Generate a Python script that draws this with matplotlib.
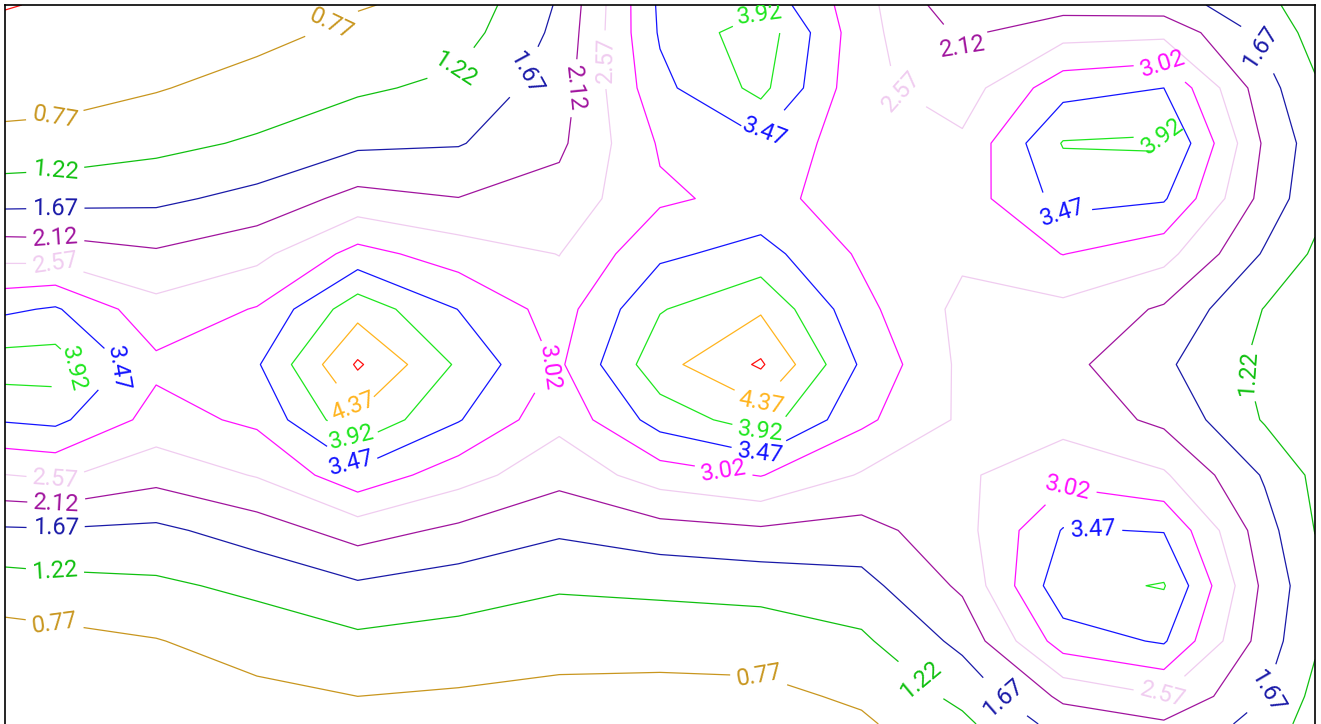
import numpy as np
import matplotlib
matplotlib.use("Agg")
import matplotlib.pyplot as plt

# grid coordinates (column / row units; nodes at cell centres plus the two borders)
x_nodes = [0, 0.5, 1.5, 2.5, 3.5, 4.5, 5.5, 6.5, 7.5, 8.5, 9.5, 10.5, 11.5, 12.5, 13]
y_nodes = [0, 0.5, 1.5, 2.5, 3.5, 4.5, 5.5, 6.5, 7.5, 8.5, 9.5, 10.5, 11.5, 12.5, 13]

# field values, one row per y node (top to bottom)
z_rows = [
    [0.30, 0.36, 0.38, 0.50, 0.74, 0.90, 1.72, 3.55, 3.80, 2.73, 1.80, 1.95, 1.90, 1.35, 0.95],
    [0.41, 0.45, 0.50, 0.64, 0.87, 1.02, 1.78, 3.52, 4.20, 2.72, 2.04, 2.40, 2.45, 1.55, 1.05],
    [0.60, 0.60, 0.74, 0.94, 1.15, 1.33, 1.90, 3.35, 4.05, 2.68, 2.35, 3.30, 3.47, 1.85, 1.28],
    [0.88, 0.92, 1.09, 1.28, 1.58, 1.64, 2.03, 3.07, 3.40, 2.72, 2.65, 3.95, 3.99, 2.05, 1.45],
    [1.50, 1.52, 1.57, 1.81, 2.27, 2.13, 2.29, 2.95, 3.15, 2.82, 2.78, 3.62, 3.52, 1.95, 1.38],
    [2.40, 2.37, 2.18, 2.44, 3.18, 2.80, 2.56, 3.38, 3.64, 2.95, 2.65, 3.03, 2.73, 1.62, 1.15],
    [3.39, 3.52, 2.72, 3.05, 4.20, 3.46, 2.82, 3.89, 4.31, 3.15, 2.45, 2.45, 2.06, 1.20, 0.95],
    [4.15, 4.15, 3.12, 3.42, 4.88, 3.85, 2.95, 4.22, 4.88, 3.40, 2.47, 2.25, 1.75, 1.10, 0.90],
    [3.51, 3.58, 2.85, 3.11, 4.29, 3.50, 2.70, 3.66, 4.15, 3.12, 2.50, 2.40, 2.02, 1.18, 0.98],
    [2.56, 2.64, 2.28, 2.60, 3.33, 2.76, 2.27, 2.79, 3.04, 2.53, 2.50, 2.88, 2.63, 1.62, 1.12],
    [1.61, 1.63, 1.57, 1.88, 2.32, 2.02, 1.74, 1.94, 2.05, 1.96, 2.40, 3.50, 3.45, 1.85, 1.21],
    [1.02, 1.07, 1.14, 1.32, 1.60, 1.44, 1.27, 1.32, 1.38, 1.52, 2.20, 3.78, 3.95, 2.00, 1.35],
    [0.58, 0.63, 0.75, 0.96, 1.12, 1.04, 0.94, 0.94, 0.96, 1.14, 1.79, 3.25, 3.52, 1.90, 1.28],
    [0.45, 0.48, 0.52, 0.66, 0.77, 0.72, 0.66, 0.64, 0.66, 0.84, 1.33, 2.22, 2.55, 1.68, 1.10],
    [0.40, 0.42, 0.42, 0.55, 0.62, 0.60, 0.58, 0.58, 0.56, 0.70, 1.12, 1.85, 2.05, 1.50, 1.00],
]

levels = [0.32, 0.77, 1.22, 1.67, 2.12, 2.57, 3.02, 3.47, 3.92, 4.37, 4.82]
level_colors = ['#ff1010', '#c8961e', '#10c010', '#1a1aa8', '#a0149e', '#f0ccf0',
                '#ff10ff', '#1414ff', '#1ee61e', '#ffb41e', '#ff1010']

# where the labels sit (data coordinates)
label_spots = {
    0.77: [(3.27, 0.45), (0.50, 2.08), (0.50, 11.08), (7.49, 11.93)],
    1.22: [(4.47, 1.18), (0.50, 3.02), (0.50, 10.13), (12.26, 6.69), (9.13, 12.12)],
    1.67: [(5.21, 1.27), (0.50, 3.71), (0.50, 9.37), (12.50, 0.72), (9.97, 12.39), (12.47, 12.39)],
    2.12: [(5.81, 1.54), (9.48, 1.08), (0.50, 4.20), (0.50, 8.90)],
    2.57: [(5.95, 0.99), (8.93, 1.45), (0.50, 4.67), (0.50, 8.54), (11.49, 12.44)],
    3.02: [(5.36, 6.51), (7.14, 8.32), (11.49, 1.08), (10.55, 8.68)],
    3.47: [(1.14, 6.60), (7.49, 2.22), (10.50, 3.92), (3.42, 8.32), (7.49, 8.14), (10.80, 9.40)],
    3.92: [(7.49, 0.18), (0.69, 6.60), (11.49, 2.39), (3.42, 7.87), (7.49, 7.78)],
    4.37: [(3.42, 7.32), (7.49, 7.27)],
}

X, Y = np.meshgrid(np.array(x_nodes), np.array(y_nodes))
Z = np.array(z_rows)

fig = plt.figure(figsize=(13.21, 7.24), dpi=100)
ax = fig.add_axes([5 / 1321, 0, 1310 / 1321, 719 / 724])

for lev, col in zip(levels, level_colors):
    cs = ax.contour(X, Y, Z, levels=[lev], colors=[col], linewidths=0.9)
    if lev in label_spots:
        txts = ax.clabel(cs, fmt='%.2f', fontsize=17, inline=True, inline_spacing=3,
                         manual=label_spots[lev])
        for t in txts:
            t.set_fontfamily('Roboto')

ax.set_xlim(0, 13)
ax.set_ylim(13, 0)
ax.set_xticks([])
ax.set_yticks([])
for side in ['top', 'left', 'right']:
    ax.spines[side].set_linewidth(1.2)
    ax.spines[side].set_color('black')
ax.spines['bottom'].set_visible(False)

fig.savefig('out.png', dpi=100)
